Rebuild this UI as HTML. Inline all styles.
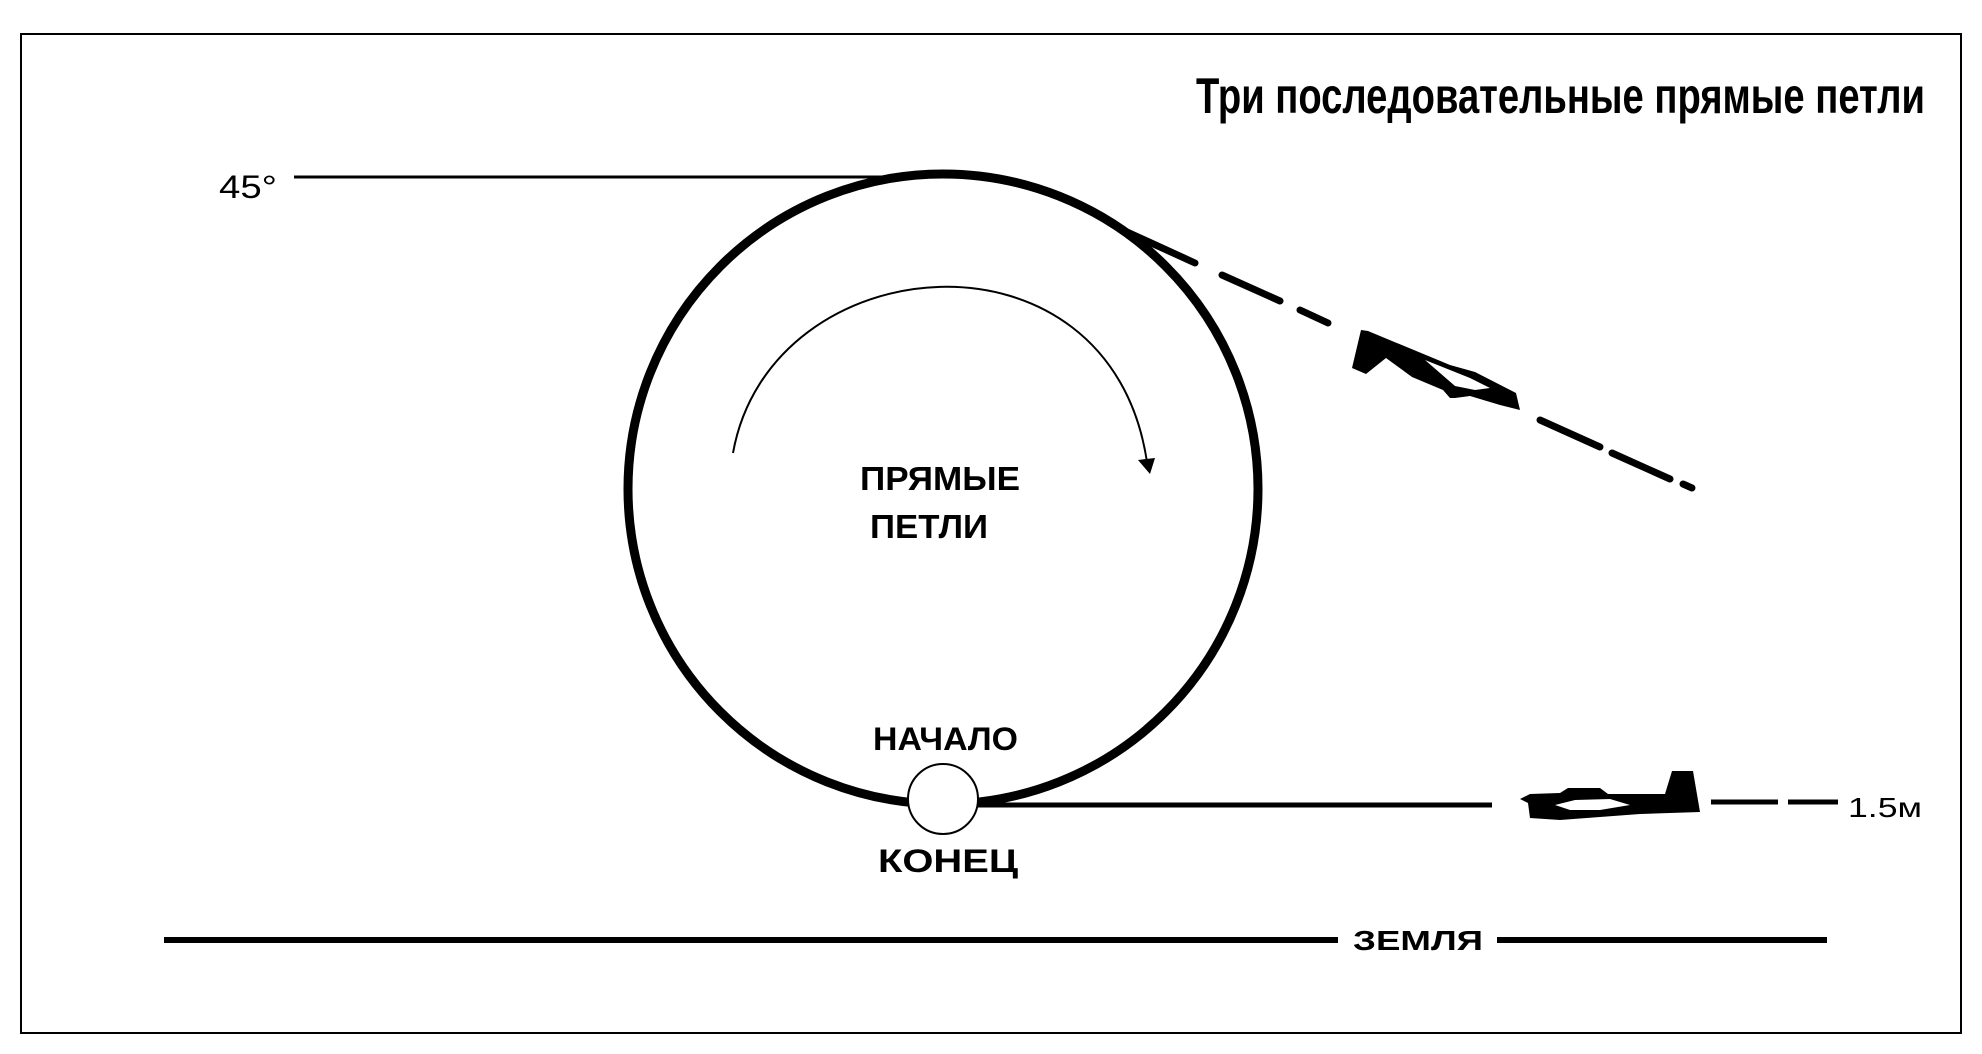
<!DOCTYPE html>
<html><head><meta charset="utf-8"><style>html,body{margin:0;padding:0;background:#fff}svg{display:block}</style></head>
<body>
<svg width="1982" height="1054" viewBox="0 0 1982 1054" xmlns="http://www.w3.org/2000/svg" font-family="Liberation Sans, sans-serif">
<rect x="21" y="34" width="1940" height="999" fill="none" stroke="#000" stroke-width="2"/>
<text x="1196" y="113" font-size="50" font-weight="bold" textLength="729" lengthAdjust="spacingAndGlyphs">Три последовательные прямые петли</text>
<text x="219" y="198" font-size="32" textLength="58" lengthAdjust="spacingAndGlyphs">45°</text>
<line x1="294" y1="177" x2="942" y2="177" stroke="#000" stroke-width="3"/>
<circle cx="943" cy="489" r="315" fill="none" stroke="#000" stroke-width="9"/>
<g stroke="#000" stroke-width="7" stroke-linecap="round">
<line x1="1125" y1="231" x2="1195" y2="263"/>
<line x1="1222" y1="275" x2="1280" y2="301"/>
<line x1="1300" y1="310" x2="1328" y2="323"/>
<line x1="1540" y1="420" x2="1600" y2="447"/>
<line x1="1612" y1="453" x2="1670" y2="479"/>
<line x1="1683" y1="484" x2="1692" y2="488"/>
</g>
<!-- plane 1 -->
<polygon points="1361,330 1368,331 1450,365 1475,372 1516,393 1520,410 1500,405 1470,396 1455,398 1450,398 1443,390 1412,377 1386,358 1366,374 1352,368" fill="#000"/>
<polygon points="1425,360 1470,378 1490,388 1475,390 1455,386" fill="#fff"/>
<path d="M733 453 C 770 245, 1110 215, 1147 462" fill="none" stroke="#000" stroke-width="2"/>
<polygon points="1138,460 1155,458 1150,474" fill="#000"/>
<text x="860" y="490" font-size="33" font-weight="bold" textLength="160" lengthAdjust="spacingAndGlyphs">ПРЯМЫЕ</text>
<text x="870" y="538" font-size="33" font-weight="bold" textLength="118" lengthAdjust="spacingAndGlyphs">ПЕТЛИ</text>
<text x="873" y="750" font-size="32" font-weight="bold" textLength="145" lengthAdjust="spacingAndGlyphs">НАЧАЛО</text>
<text x="878" y="872" font-size="32" font-weight="bold" textLength="140" lengthAdjust="spacingAndGlyphs">КОНЕЦ</text>
<line x1="977" y1="805" x2="1492" y2="805" stroke="#000" stroke-width="5"/>
<circle cx="943" cy="799" r="35" fill="#fff" stroke="#000" stroke-width="2"/>
<!-- plane 2 -->
<polygon points="1520,799 1530,794 1560,793 1568,788 1600,788 1608,794 1665,794 1672,771 1693,771 1700,812 1640,814 1560,820 1530,818 1528,803" fill="#000"/>
<polygon points="1555,805 1575,800 1610,799 1630,805 1600,810 1570,810" fill="#fff"/>
<line x1="1711" y1="802" x2="1778" y2="802" stroke="#000" stroke-width="5"/>
<line x1="1788" y1="802" x2="1838" y2="802" stroke="#000" stroke-width="5"/>
<text x="1848" y="817" font-size="28" textLength="74" lengthAdjust="spacingAndGlyphs">1.5м</text>
<line x1="164" y1="940" x2="1338" y2="940" stroke="#000" stroke-width="6"/>
<line x1="1497" y1="940" x2="1827" y2="940" stroke="#000" stroke-width="6"/>
<text x="1353" y="950" font-size="28" font-weight="bold" textLength="130" lengthAdjust="spacingAndGlyphs">ЗЕМЛЯ</text>
</svg>
</body></html>
